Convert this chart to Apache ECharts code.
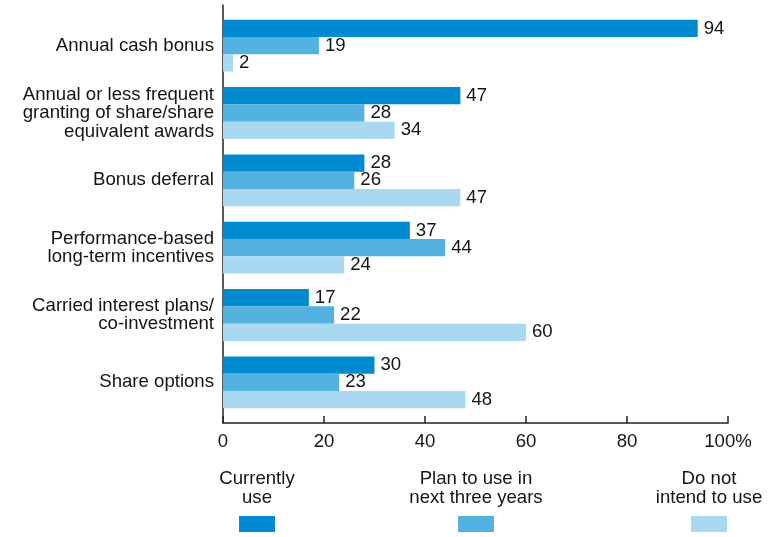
<!DOCTYPE html>
<html>
<head>
<meta charset="utf-8">
<style>
  html, body { margin: 0; padding: 0; background: #fff; }
  #chart { width: 780px; height: 537px; }
</style>
<script src="https://cdn.jsdelivr.net/npm/echarts@6/dist/echarts.min.js"></script>
</head>
<body>
<div id="chart"></div>
<script>
// Incentive plans: share of firms by usage status (%)
const categories = [
  'Annual cash bonus',
  'Annual or less frequent\ngranting of share/share\nequivalent awards',
  'Bonus deferral',
  'Performance-based\nlong-term incentives',
  'Carried interest plans/\nco-investment',
  'Share options'
];
const currentlyUse = [94, 47, 28, 37, 17, 30];
const planToUse = [19, 28, 26, 44, 22, 23];
const doNotIntend = [2, 34, 47, 24, 60, 48];

const seriesNames = ['Currently\nuse', 'Plan to use in\nnext three years', 'Do not\nintend to use'];
const seriesColors = ['#008acf', '#54b2e1', '#a9d9f0'];
const xTicks = [0, 20, 40, 60, 80, 100];

const FONT = '"Liberation Sans", Arial, Helvetica, sans-serif';
const INK = '#141414';
const FS = 18.6;

const chart = echarts.init(document.getElementById('chart'), null, { renderer: 'canvas' });

function barSeries(i, values) {
  return {
    name: seriesNames[i],
    type: 'bar',
    xAxisIndex: 1,
    yAxisIndex: 1,
    data: values,
    barGap: '0%',
    barCategoryGap: '23%',
    itemStyle: { color: seriesColors[i] },
    label: {
      show: true,
      position: 'right',
      distance: 6,
      color: INK,
      fontFamily: FONT,
      fontSize: FS
    },
    emphasis: { disabled: true },
    silent: true
  };
}

// Legend keys sit under their text labels
const legendLefts = [239, 458, 691];
const legendTextCenters = [257, 476, 709];

chart.setOption({
  animation: false,
  textStyle: { fontFamily: FONT },
  grid: [
    // frame: axis lines, ticks and tick labels
    { left: 223, right: 52, top: 5, bottom: 114 },
    // bars
    { left: 223, right: 52, top: 12, bottom: 121 }
  ],
  xAxis: [
    {
      gridIndex: 0,
      type: 'value',
      min: 0,
      max: 100,
      interval: 20,
      splitLine: { show: false },
      axisLine: { show: true, lineStyle: { color: '#222', width: 1.5 } },
      axisTick: { show: true, inside: true, length: 7, lineStyle: { color: '#222', width: 1.5 } },
      axisLabel: {
        margin: 9,
        color: INK,
        fontSize: FS,
        fontFamily: FONT,
        formatter: v => (v === xTicks[xTicks.length - 1] ? v + '%' : String(v))
      }
    },
    {
      gridIndex: 1,
      type: 'value',
      min: 0,
      max: 100,
      show: false
    }
  ],
  yAxis: [
    {
      gridIndex: 0,
      type: 'value',
      min: 0,
      max: 1,
      axisLine: { show: true, lineStyle: { color: '#222', width: 1.5 } },
      axisTick: { show: false },
      axisLabel: { show: false },
      splitLine: { show: false }
    },
    {
      gridIndex: 1,
      type: 'category',
      inverse: true,
      data: categories,
      axisLine: { show: false },
      axisTick: { show: false },
      axisLabel: {
        margin: 9,
        color: INK,
        fontSize: FS,
        lineHeight: 18.5,
        fontFamily: FONT,
        align: 'right'
      }
    }
  ],
  legend: seriesNames.map((name, i) => ({
    data: [name],
    left: legendLefts[i],
    top: 516,
    itemWidth: 36,
    itemHeight: 16,
    icon: 'rect',
    formatter: () => '',
    selectedMode: false,
    padding: 0
  })),
  title: seriesNames.map((name, i) => ({
    text: name,
    left: legendTextCenters[i],
    top: 470,
    textAlign: 'center',
    padding: 0,
    textStyle: {
      fontFamily: FONT,
      fontSize: FS,
      fontWeight: 'normal',
      lineHeight: 18.5,
      color: INK
    }
  })),
  series: [
    barSeries(0, currentlyUse),
    barSeries(1, planToUse),
    barSeries(2, doNotIntend)
  ]
});
</script>
</body>
</html>
